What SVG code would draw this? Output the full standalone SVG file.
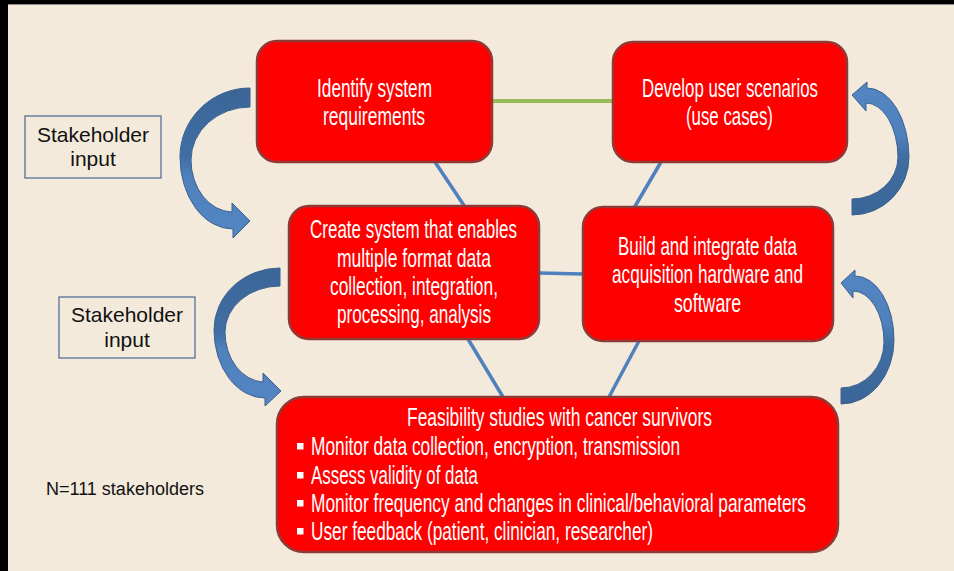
<svg xmlns="http://www.w3.org/2000/svg" width="954" height="571" viewBox="0 0 954 571">
  <style>
    .box { fill: #FF0000; stroke: #8E3B37; stroke-width: 2.5; }
    .label { fill: #FFFFFF; font-family: "Liberation Sans", Arial, sans-serif; font-size: 26px; }
    .input-box { fill: #F3EADB; stroke: #4A6690; stroke-width: 1.2; }
    .plain { fill: #111111; font-family: "Liberation Sans", Arial, sans-serif; }
    .link-blue { stroke: #4F81BD; stroke-width: 3.5; fill: none; }
    .link-green { stroke: #9BBB59; stroke-width: 4; fill: none; }
    .curl { stroke: #3A6190; stroke-width: 1; }
    .bullet { fill: #FFFFFF; }
  </style>
  <defs>
    <linearGradient id="curlDown" x1="0" y1="0" x2="0" y2="1">
      <stop offset="0" stop-color="#3B6597"/>
      <stop offset="0.45" stop-color="#406EA4"/>
      <stop offset="0.6" stop-color="#4F81BD"/>
      <stop offset="1" stop-color="#5285C1"/>
    </linearGradient>
    <linearGradient id="curlUp" x1="0" y1="1" x2="0" y2="0">
      <stop offset="0" stop-color="#3B6597"/>
      <stop offset="0.45" stop-color="#406EA4"/>
      <stop offset="0.6" stop-color="#4F81BD"/>
      <stop offset="1" stop-color="#5285C1"/>
    </linearGradient>
  </defs>

  <!-- frame and page -->
  <rect x="0" y="0" width="954" height="571" fill="#000000"/>
  <rect x="8" y="4" width="946" height="567" fill="#F3EADB"/>
  <line x1="8" y1="4.5" x2="954" y2="4.5" stroke="#8A8A8A" stroke-width="1"/>

  <!-- connectors between the steps -->
  <g id="connectors">
    <line class="link-green" x1="492" y1="101" x2="613" y2="101"/>
    <line class="link-blue" x1="435" y1="162" x2="465" y2="207"/>
    <line class="link-blue" x1="661" y1="162" x2="634" y2="208"/>
    <line class="link-blue" x1="539" y1="273" x2="583" y2="274"/>
    <line class="link-blue" x1="468" y1="339" x2="503" y2="397"/>
    <line class="link-blue" x1="639" y1="341" x2="609" y2="397"/>
  </g>

  <!-- curved feedback arrows -->
  <g id="curved-arrows">
    <path class="curl" fill="url(#curlDown)" d="M250,88 A70,69 0 0 0 180,157 A53,72 0 0 0 233,229 L233,238 L250,221 L232,203 L232,212 A42,52 0 0 1 191,160 A59,53 0 0 1 250,107 Z"/>
    <path class="curl" fill="url(#curlDown)" d="M280,268 A66,62 0 0 0 214,330 A51,68 0 0 0 265,398 L265,406 L281,391 L263,373 L263,382 A40,50 0 0 1 225,332 A55,46 0 0 1 280,286 Z"/>
    <path class="curl" fill="url(#curlUp)" d="M852,215 A57,58 0 0 0 909,157 A42,70 0 0 0 867,88 L867,82 L852,95 L866,111 L866,103 A32,55 0 0 1 898,157 A46,42 0 0 1 852,199 Z"/>
    <path class="curl" fill="url(#curlUp)" d="M841,404 A53,64 0 0 0 894,340 A39,64 0 0 0 855,276 L855,270 L841,283 L853,298 L853,291 A31,51 0 0 1 884,342 A43,46 0 0 1 841,388 Z"/>
  </g>

  <!-- step labels use a horizontally condensed sans: scale(0.64,1) with textLength = width / 0.64 -->
  <g id="identify-requirements">
    <rect class="box" x="257" y="41" width="235" height="121" rx="20"/>
    <text class="label" transform="translate(317,97) scale(0.64,1)" textLength="179.7" lengthAdjust="spacingAndGlyphs">Identify system</text>
    <text class="label" transform="translate(323,125) scale(0.64,1)" textLength="159.4" lengthAdjust="spacingAndGlyphs">requirements</text>
  </g>

  <g id="user-scenarios">
    <rect class="box" x="613" y="42" width="234" height="120" rx="20"/>
    <text class="label" transform="translate(642,97) scale(0.64,1)" textLength="275" lengthAdjust="spacingAndGlyphs">Develop user scenarios</text>
    <text class="label" transform="translate(686,125) scale(0.64,1)" textLength="135.9" lengthAdjust="spacingAndGlyphs">(use cases)</text>
  </g>

  <g id="create-system">
    <rect class="box" x="289" y="206" width="250" height="133" rx="20"/>
    <text class="label" transform="translate(310,238) scale(0.64,1)" textLength="323.4" lengthAdjust="spacingAndGlyphs">Create system that enables</text>
    <text class="label" transform="translate(337,267) scale(0.64,1)" textLength="240.6" lengthAdjust="spacingAndGlyphs">multiple format data</text>
    <text class="label" transform="translate(330,295) scale(0.64,1)" textLength="262.5" lengthAdjust="spacingAndGlyphs">collection, integration,</text>
    <text class="label" transform="translate(337,323) scale(0.64,1)" textLength="240.6" lengthAdjust="spacingAndGlyphs">processing, analysis</text>
  </g>

  <g id="build-integrate">
    <rect class="box" x="583" y="207" width="250" height="134" rx="20"/>
    <text class="label" transform="translate(618,255) scale(0.64,1)" textLength="279.7" lengthAdjust="spacingAndGlyphs">Build and integrate data</text>
    <text class="label" transform="translate(612,283) scale(0.64,1)" textLength="298.4" lengthAdjust="spacingAndGlyphs">acquisition hardware and</text>
    <text class="label" transform="translate(674,312) scale(0.64,1)" textLength="104.7" lengthAdjust="spacingAndGlyphs">software</text>
  </g>

  <g id="feasibility-studies">
    <rect class="box" x="277" y="397" width="561" height="155" rx="27"/>
    <text class="label" transform="translate(407,426) scale(0.64,1)" textLength="476.6" lengthAdjust="spacingAndGlyphs">Feasibility studies with cancer survivors</text>
    <rect class="bullet" x="297" y="443" width="6.5" height="6.5"/>
    <text class="label" transform="translate(311,455) scale(0.64,1)" textLength="576.6" lengthAdjust="spacingAndGlyphs">Monitor data collection, encryption, transmission</text>
    <rect class="bullet" x="297" y="472" width="6.5" height="6.5"/>
    <text class="label" transform="translate(311,484) scale(0.64,1)" textLength="260.9" lengthAdjust="spacingAndGlyphs">Assess validity of data</text>
    <rect class="bullet" x="297" y="500" width="6.5" height="6.5"/>
    <text class="label" transform="translate(311,512) scale(0.64,1)" textLength="773.4" lengthAdjust="spacingAndGlyphs">Monitor frequency and changes in clinical/behavioral parameters</text>
    <rect class="bullet" x="297" y="528" width="6.5" height="6.5"/>
    <text class="label" transform="translate(311,540) scale(0.64,1)" textLength="534.4" lengthAdjust="spacingAndGlyphs">User feedback (patient, clinician, researcher)</text>
  </g>

  <g id="stakeholder-input-1">
    <rect class="input-box" x="25" y="116" width="136" height="62"/>
    <text class="plain" x="93" y="142" font-size="21" text-anchor="middle">Stakeholder</text>
    <text class="plain" x="93" y="166" font-size="21" text-anchor="middle">input</text>
  </g>

  <g id="stakeholder-input-2">
    <rect class="input-box" x="59" y="297" width="136" height="61"/>
    <text class="plain" x="127" y="322" font-size="21" text-anchor="middle">Stakeholder</text>
    <text class="plain" x="127" y="347" font-size="21" text-anchor="middle">input</text>
  </g>

  <text class="plain" x="46" y="495" font-size="18">N=111 stakeholders</text>
</svg>
